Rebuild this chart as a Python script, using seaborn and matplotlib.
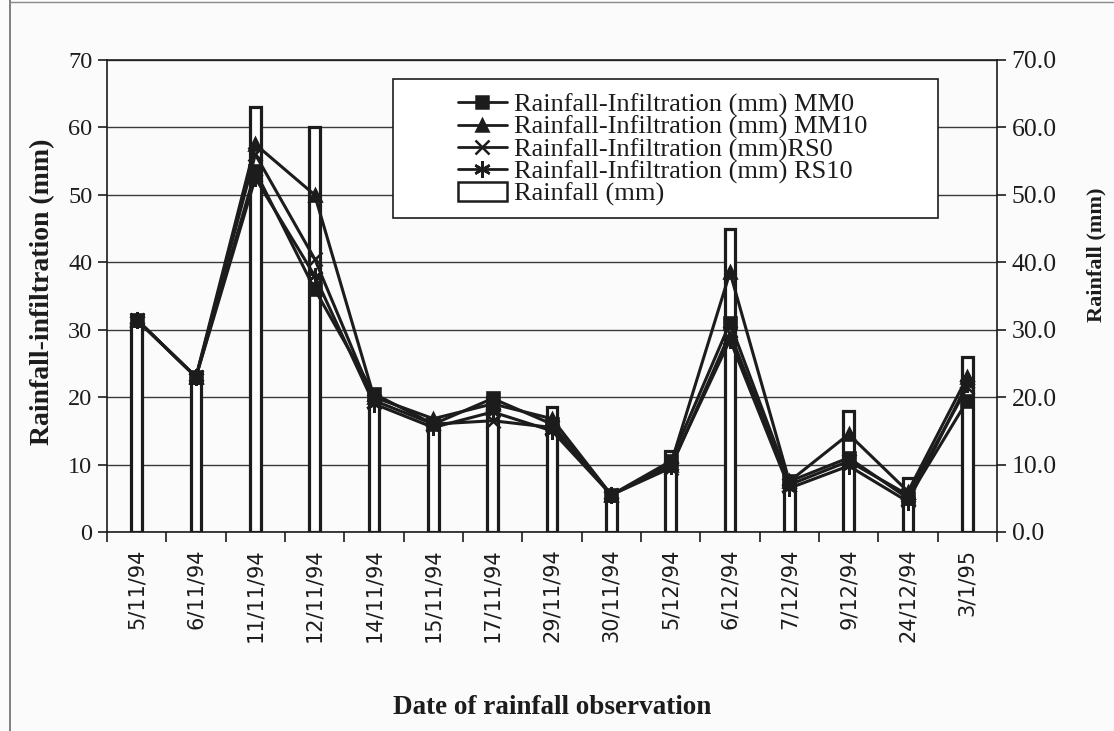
import numpy as np
import pandas as pd
import matplotlib
matplotlib.use("Agg")
import matplotlib.pyplot as plt
import seaborn as sns
from matplotlib.patches import Patch, Rectangle
from matplotlib.lines import Line2D

# Observation dates
dates = ["5/11/94", "6/11/94", "11/11/94", "12/11/94", "14/11/94", "15/11/94",
         "17/11/94", "29/11/94", "30/11/94", "5/12/94", "6/12/94", "7/12/94",
         "9/12/94", "24/12/94", "3/1/95"]

# Rainfall depth (mm)
rainfall = [31, 23, 63, 60, 20, 16, 20, 18.5, 5, 12, 45, 7.5, 18, 8, 26]

# Rainfall minus infiltration (mm) per treatment
mm0 = [31.5, 23, 53.5, 36, 20.5, 16, 19.8, 16, 5.5, 10.5, 31, 7.5, 11, 5, 19.5]
mm10 = [31.5, 23, 57.5, 50, 20, 16.8, 19, 16.8, 5.5, 10, 38.5, 7.5, 14.5, 6, 23]
rs0 = [31.5, 23, 56, 40.5, 19.5, 16, 16.5, 15.5, 5.5, 9.5, 29.5, 7, 10.5, 5.5, 21.5]
rs10 = [31.5, 23, 52.5, 38, 19, 15.5, 17.8, 15, 5.5, 9.8, 28.5, 6.5, 9.8, 4.5, 22]

series_names = ["Rainfall-Infiltration (mm) MM0", "Rainfall-Infiltration (mm) MM10",
                "Rainfall-Infiltration (mm)RS0", "Rainfall-Infiltration (mm) RS10"]
series_vals = [mm0, mm10, rs0, rs10]
series_markers = ["s", "^", "x", (6, 2, 0)]
series_msize = [9, 9, 10, 12]

sns.set_theme(style="white")
plt.rcParams["font.family"] = ["Liberation Serif", "DejaVu Serif"]

ink = "#1c1c1c"
W, H = 1114, 731
fig = plt.figure(figsize=(W / 100, H / 100), dpi=100, facecolor="#fbfbfb")
ax = fig.add_axes([107 / W, 1 - 532 / H, 890 / W, 472 / H])
ax.set_facecolor("#fbfbfb")

pos = np.arange(len(dates))
rain_df = pd.DataFrame({"pos": pos, "rain": rainfall})

# Rainfall bars (hollow)
sns.barplot(data=rain_df, x="pos", y="rain", native_scale=True, width=0.185,
            color="white", edgecolor=ink, linewidth=2.3, ax=ax, zorder=2)

# Treatment lines
for name, vals, mk, ms in zip(series_names, series_vals, series_markers, series_msize):
    df = pd.DataFrame({"pos": pos, "val": vals})
    sns.lineplot(data=df, x="pos", y="val", ax=ax, color=ink, linewidth=2.2,
                 marker=mk, markersize=ms, markeredgecolor=ink, markeredgewidth=1.9,
                 markerfacecolor=ink, zorder=4, legend=False)

ax.set_xlim(-0.5, len(dates) - 0.5)
ax.set_ylim(0, 70)
ax.set_yticks(np.arange(0, 71, 10))
ax.yaxis.grid(True, color="#3a3a3a", linewidth=1.0, zorder=0)
ax.xaxis.grid(False)
ax.set_axisbelow(True)

# Ticks at category boundaries, labels at centres
ax.set_xticks(np.arange(-0.5, len(dates), 1.0))
ax.set_xticklabels([])
ax.set_xticks(pos, minor=True)
ax.set_xticklabels(dates, minor=True, rotation=90, fontsize=15,
                   family=["DejaVu Sans"], color=ink)
ax.tick_params(axis="x", which="major", direction="out", length=7, width=1.2,
               color=ink, bottom=True)
ax.tick_params(axis="x", which="minor", length=0, pad=12)
ax.tick_params(axis="y", direction="out", length=6.5, width=1.2, color=ink,
               labelsize=17.5, labelcolor=ink, left=True, pad=4)

for s in ax.spines.values():
    s.set_color(ink)
    s.set_linewidth(1.2)

ax.set_xlabel("Date of rainfall observation", fontsize=19.5, fontweight="bold",
              color=ink, labelpad=38)
ax.set_ylabel("Rainfall-infiltration (mm)", fontsize=20, fontweight="bold",
              color=ink)
ax.yaxis.set_label_coords(-0.058, 0.51)

# Right-hand rainfall axis on the same scale
ax2 = ax.twinx()
ax2.set_ylim(0, 70)
ax2.set_yticks(np.arange(0, 71, 10))
ax2.set_yticklabels([f"{v:.1f}" for v in np.arange(0, 71, 10)])
ax2.tick_params(axis="y", direction="out", length=6.5, width=1.2, color=ink,
                labelsize=18.5, labelcolor=ink, right=True, pad=4)
ax2.grid(False)
for s in ax2.spines.values():
    s.set_visible(False)
ax2.set_ylabel("Rainfall (mm)", fontsize=16, fontweight="bold", color=ink)
ax2.yaxis.set_label_coords(1.10, 0.587)

# Legend with a wide frame drawn separately
handles = [Line2D([0], [0], color=ink, linewidth=2.0, marker=mk, markersize=ms,
                  markeredgecolor=ink, markerfacecolor=ink, markeredgewidth=1.8)
           for mk, ms in zip(series_markers, series_msize)]
handles.append(Patch(facecolor="white", edgecolor=ink, linewidth=1.8))
labels = series_names + ["Rainfall (mm)"]
fig.add_artist(Rectangle((393 / W, 1 - 218 / H), 545 / W, 139 / H,
                         transform=fig.transFigure, facecolor="white",
                         edgecolor=ink, linewidth=1.2, zorder=5))
leg = fig.legend(handles, labels, loc="upper left",
                 bbox_to_anchor=(458 / W, 1 - 93 / H),
                 fontsize=19, frameon=False, handlelength=1.85,
                 handletextpad=0.28, labelspacing=-0.06, borderpad=0.0,
                 borderaxespad=0.0)
leg.set_zorder(6)
for t in leg.get_texts():
    t.set_color(ink)

# Page edge lines
fig.add_artist(Line2D([0.009, 0.009], [0.0, 1.0], transform=fig.transFigure,
                      color="#6a6a6a", linewidth=1.2))
fig.add_artist(Line2D([0.009, 1.0], [0.997, 0.997], transform=fig.transFigure,
                      color="#8a8a8a", linewidth=1.0))

fig.savefig("out.png", dpi=100, facecolor=fig.get_facecolor())
